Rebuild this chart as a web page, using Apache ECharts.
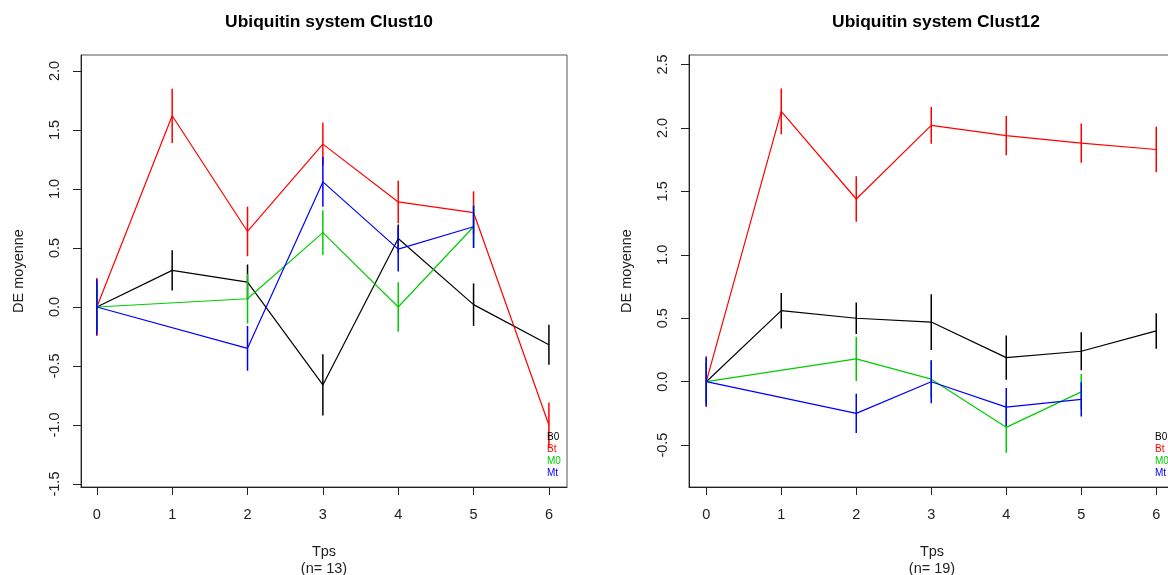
<!DOCTYPE html>
<html>
<head>
<meta charset="utf-8">
<script src="https://cdn.jsdelivr.net/npm/echarts@6/dist/echarts.min.js"></script>
<style>
  html, body { margin: 0; padding: 0; background: #fff; }
  #chart { width: 1168px; height: 575px; }
</style>
</head>
<body>
<div id="chart"></div>
<script>
// temps
var tps = [0, 1, 2, 3, 4, 5, 6];
var xTicks = [0, 1, 2, 3, 4, 5, 6];

// Clust10 (n = 13)
var c10_B0    = [0, 0.31, 0.21, -0.66, 0.58, 0.02, -0.32];
var c10_B0_se = [0.2, 0.17, 0.15, 0.26, 0.12, 0.18, 0.17];
var c10_Bt    = [0, 1.62, 0.64, 1.38, 0.89, 0.80, -1.0];
var c10_Bt_se = [0.245, 0.23, 0.21, 0.18, 0.18, 0.18, 0.19];
var c10_M0    = [0, null, 0.07, 0.63, 0.0, 0.68, null];
var c10_M0_se = [0.2, null, 0.21, 0.19, 0.21, 0.18, null];
var c10_Mt    = [0, null, -0.35, 1.06, 0.49, 0.68, null];
var c10_Mt_se = [0.235, null, 0.19, 0.21, 0.19, 0.18, null];
var c10_yTicks = [-1.5, -1.0, -0.5, 0.0, 0.5, 1.0, 1.5, 2.0];

// Clust12 (n = 19)
var c12_B0    = [0, 0.56, 0.50, 0.47, 0.19, 0.24, 0.40];
var c12_B0_se = [0.15, 0.14, 0.125, 0.22, 0.175, 0.15, 0.14];
var c12_Bt    = [0, 2.13, 1.44, 2.02, 1.94, 1.88, 1.83];
var c12_Bt_se = [0.2, 0.18, 0.18, 0.145, 0.155, 0.155, 0.18];
var c12_M0    = [0, null, 0.18, 0.02, -0.36, -0.08, null];
var c12_M0_se = [0.19, null, 0.175, 0.15, 0.2, 0.14, null];
var c12_Mt    = [0, null, -0.25, 0.0, -0.2, -0.14, null];
var c12_Mt_se = [0.19, null, 0.155, 0.17, 0.15, 0.135, null];
var c12_yTicks = [-0.5, 0.0, 0.5, 1.0, 1.5, 2.0, 2.5];

var groups = ['B0', 'Bt', 'M0', 'Mt'];
var colors = ['#000000', '#ff0000', '#00cd00', '#0000ff'];

var FONT = '"Liberation Sans", Arial, sans-serif';

// trace + barres d'erreur pour un groupe
function makeSeries(gi, name, vals, se, color, z) {
    var pts = [], bars = [];
    for (var i = 0; i < tps.length; i++) {
        if (vals[i] === null) continue;
        pts.push([tps[i], vals[i]]);
        if (se[i] !== null) bars.push([tps[i], vals[i] - se[i], vals[i] + se[i]]);
    }
    return [{
        name: name, type: 'line', xAxisIndex: gi, yAxisIndex: gi,
        data: pts, showSymbol: false, z: z, silent: true,
        lineStyle: { color: color, width: 1.2 }, itemStyle: { color: color }
    }, {
        name: name, type: 'custom', xAxisIndex: gi, yAxisIndex: gi,
        data: bars, z: z, silent: true, itemStyle: { color: color },
        renderItem: function (params, api) {
            var p1 = api.coord([api.value(0), api.value(1)]);
            var p2 = api.coord([api.value(0), api.value(2)]);
            return { type: 'line', shape: { x1: p1[0], y1: p1[1], x2: p2[0], y2: p2[1] },
                     style: { stroke: color, lineWidth: 1.5 } };
        }
    }];
}

function xAx(gi, n, min, max) {
    return {
        gridIndex: gi, type: 'value', min: min, max: max,
        name: 'Tps\n(n= ' + n + ')', nameLocation: 'middle', nameGap: 56,
        nameTextStyle: { fontFamily: FONT, fontSize: 14.5, color: '#222', lineHeight: 17 },
        axisLine: { show: true, onZero: false, lineStyle: { color: '#222', width: 1 } },
        axisTick: { show: true, length: 8, inside: false, customValues: xTicks, lineStyle: { color: '#222' } },
        axisLabel: { customValues: xTicks, margin: 20, fontFamily: FONT, fontSize: 14.5, color: '#222' },
        splitLine: { show: false }
    };
}

function yAx(gi, min, max, ticks) {
    return {
        gridIndex: gi, type: 'value', min: min, max: max,
        name: 'DE moyenne', nameLocation: 'middle', nameGap: 55,
        nameTextStyle: { fontFamily: FONT, fontSize: 14.5, color: '#222' },
        axisLine: { show: true, onZero: false, lineStyle: { color: '#222', width: 1 } },
        axisTick: { show: true, length: 8, inside: false, customValues: ticks, lineStyle: { color: '#222' } },
        axisLabel: { customValues: ticks, rotate: 90, margin: 19, fontFamily: FONT, fontSize: 14.5, color: '#222',
                     formatter: function (v) { return v.toFixed(1); } },
        splitLine: { show: false }
    };
}

var series = [];
var panels = [
    [c10_B0, c10_B0_se, c10_Bt, c10_Bt_se, c10_M0, c10_M0_se, c10_Mt, c10_Mt_se],
    [c12_B0, c12_B0_se, c12_Bt, c12_Bt_se, c12_M0, c12_M0_se, c12_Mt, c12_Mt_se]
];
panels.forEach(function (p, gi) {
    for (var k = 0; k < 4; k++) {
        series = series.concat(makeSeries(gi, groups[k], p[2 * k], p[2 * k + 1], colors[k], 2 + k));
    }
});

// légende texte (coin bas droit)
var legendTexts = [];
[[547], [1155]].forEach(function (pos) {
    groups.forEach(function (g, k) {
        legendTexts.push({
            type: 'text', left: pos[0], top: 432 + k * 12, z: 20,
            style: { text: g, fill: colors[k], font: '10px ' + FONT }
        });
    });
});

var chart = echarts.init(document.getElementById('chart'), null, { renderer: 'canvas' });
chart.setOption({
    animation: false,
    backgroundColor: '#fff',
    title: [
        { text: 'Ubiquitin system Clust10', left: 324, top: 9, textAlign: 'center',
          textStyle: { fontFamily: FONT, fontSize: 17.4, fontWeight: 'bold', color: '#000' } },
        { text: 'Ubiquitin system Clust12', left: 931, top: 9, textAlign: 'center',
          textStyle: { fontFamily: FONT, fontSize: 17.4, fontWeight: 'bold', color: '#000' } }
    ],
    grid: [
        { left: 81, top: 55, width: 486, height: 432, show: true, borderColor: '#555', borderWidth: 1,
          backgroundColor: 'transparent', containLabel: false, outerBoundsMode: 'none' },
        { left: 689, top: 55, width: 486, height: 432, show: true, borderColor: '#555', borderWidth: 1,
          backgroundColor: 'transparent', containLabel: false, outerBoundsMode: 'none' }
    ],
    xAxis: [xAx(0, 13, -0.21, 6.24), xAx(1, 19, -0.23, 6.25)],
    yAxis: [yAx(0, -1.525, 2.135, c10_yTicks), yAx(1, -0.83, 2.575, c12_yTicks)],
    graphic: legendTexts,
    series: series
});
</script>
</body>
</html>
